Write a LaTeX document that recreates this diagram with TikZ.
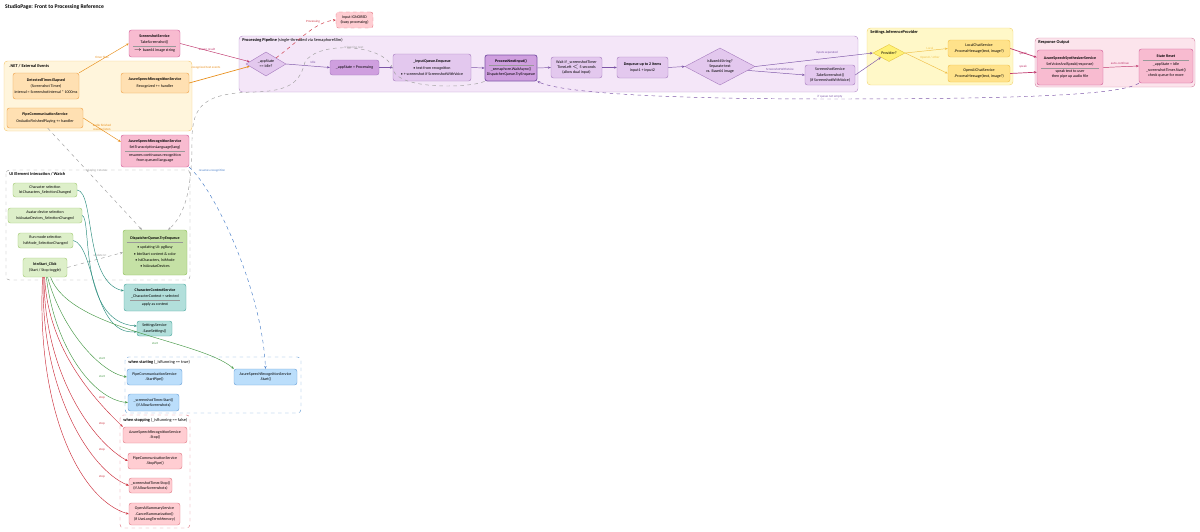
\documentclass[tikz,border=0pt]{standalone}
\usepackage{fontspec}
\setmainfont{Carlito}
\usepackage{tikz}
\usetikzlibrary{shapes.geometric, arrows.meta, positioning}
\definecolor{orfill}{HTML}{FFE0B2}
\definecolor{ordraw}{HTML}{EFA24A}
\definecolor{orgrp}{HTML}{FFF5DC}
\definecolor{orgrpdraw}{HTML}{F6CB7A}
\definecolor{pkfill}{HTML}{F8BBD0}
\definecolor{pkdraw}{HTML}{D0609A}
\definecolor{pufill}{HTML}{E3C8EE}
\definecolor{pudraw}{HTML}{A77CBF}
\definecolor{pudkfill}{HTML}{CF9FDF}
\definecolor{pugrp}{HTML}{F4E6F8}
\definecolor{pugrpdraw}{HTML}{B994CC}
\definecolor{grfill}{HTML}{DDEFC9}
\definecolor{grdraw}{HTML}{A2CB73}
\definecolor{dispfill}{HTML}{C5E1A5}
\definecolor{dispdraw}{HTML}{8DBF5A}
\definecolor{tlfill}{HTML}{B2DFDB}
\definecolor{tldraw}{HTML}{4BA89E}
\definecolor{blfill}{HTML}{BBDEFB}
\definecolor{bldraw}{HTML}{6A9FD6}
\definecolor{rdfill}{HTML}{FFCDD2}
\definecolor{rddraw}{HTML}{E07A86}
\definecolor{ylfill}{HTML}{FFE28A}
\definecolor{yldraw}{HTML}{F0C04A}
\definecolor{ylgrp}{HTML}{FFF8C8}
\definecolor{ylgrpdraw}{HTML}{F3D77A}
\definecolor{provfill}{HTML}{FFF176}
\definecolor{provdraw}{HTML}{E4C441}
\definecolor{respgrp}{HTML}{FCE4EC}
\definecolor{respgrpdraw}{HTML}{D68BA6}
\definecolor{orline}{HTML}{E8901E}
\definecolor{mgline}{HTML}{C0396E}
\definecolor{puline}{HTML}{7D56A8}
\definecolor{tlline}{HTML}{2F8F80}
\definecolor{gnline}{HTML}{4A9A4A}
\definecolor{rdline}{HTML}{CC3340}
\definecolor{blline}{HTML}{4A7FC8}
\definecolor{gyline}{HTML}{A0A0A0}
\newcommand{\nf}{\fontsize{3.4}{4.5}\selectfont}
\newcommand{\lf}{\fontsize{2.7}{3.2}\selectfont}
\newcommand{\gf}{\fontsize{3.7}{4.5}\selectfont\bfseries}
\newcommand{\hsep}[1]{{\color{black!40}\rule[0.7pt]{#1}{0.2pt}}}

\begin{document}
\begin{tikzpicture}[x=0.03cm, y=-0.03cm,
    box/.style={draw, rounded corners=2pt, align=center, inner sep=0.8pt, font=\nf, line width=0.35pt},
    orbox/.style={box, fill=orfill, draw=ordraw},
    pkbox/.style={box, fill=pkfill, draw=pkdraw},
    pubox/.style={box, fill=pufill, draw=pudraw},
    pudark/.style={box, fill=pudkfill, draw=pudraw},
    grbox/.style={box, fill=grfill, draw=grdraw},
    tlbox/.style={box, fill=tlfill, draw=tldraw},
    blbox/.style={box, fill=blfill, draw=bldraw},
    rdbox/.style={box, fill=rdfill, draw=rddraw},
    ylbox/.style={box, fill=ylfill, draw=yldraw},
    dia/.style={diamond, draw, aspect=2, inner sep=0pt, align=center, font=\nf, line width=0.35pt},
    grp/.style={rounded corners=3pt, line width=0.4pt},
    glabel/.style={anchor=north west, font=\gf, inner sep=1pt},
    lbl/.style={font=\lf, inner sep=0.5pt},
    arr/.style={-{Stealth[length=2.4pt, width=2pt]}, line width=0.4pt},
]
    \useasboundingbox (0,0) rectangle (1200,532);
    \node[anchor=north west, font=\fontsize{4.8}{5.5}\selectfont\bfseries, inner sep=0pt] (title) at (5,4) {StudioPage: Front to Processing Reference};

    % Groups
    \draw[grp, fill=orgrp, draw=orgrpdraw] (4,61) rectangle (192,131);
    \node[glabel] (netlbl) at (8,63) {.NET / External Events};
    \draw[grp, fill=pugrp, draw=pugrpdraw] (239,36) rectangle (858,92);
    \node[glabel] (proclbl) at (241,37) {Processing Pipeline {\mdseries (single-threaded via SemaphoreSlim)}};
    \draw[grp, fill=ylgrp, draw=ylgrpdraw] (867,28) rectangle (1013,85);
    \node[glabel] (setlbl) at (869,29.5) {Settings.InferenceProvider};
    \draw[grp, fill=respgrp, draw=respgrpdraw] (1035,38) rectangle (1195,87);
    \node[glabel] (resplbl) at (1037,39.5) {Response Output};
    \draw[grp, dashed, draw=gyline] (6,170) rectangle (190,280);
    \node[glabel] (uilbl) at (8,171.5) {UI Element Interaction / Watch};
    \draw[grp, dashed, draw=bldraw] (125,357) rectangle (301,413);
    \node[glabel] (startlbl) at (127,358.5) {when starting {\mdseries (\_isRunning == true)}};
    \draw[grp, dashed, draw=rddraw] (120,415) rectangle (190,528);
    \node[glabel] (stoplbl) at (122,416.5) {when stopping {\mdseries (\_isRunning == false)}};

    % External events
    \node[pkbox, minimum width=1.53cm, minimum height=0.81cm] (scr) at (154.5,43.5) {\textbf{ScreenshotService}\\[0.5pt] TakeScreenshot()\\[-1.5pt] \hsep{1.3cm}\\[-1pt] $\scriptstyle\rightarrow$ base64 image string};
    \node[orbox, minimum width=1.98cm, minimum height=0.78cm] (timer) at (46,86) {\textbf{DetectedTimer.Elapsed}\\[0.8pt] (Screenshot Timer)\\[0.8pt] interval = ScreenshotInterval * 1000ms};
    \node[orbox, minimum width=2.04cm, minimum height=0.6cm] (asrIn) at (155,83) {\textbf{AzureSpeechRecognitionService}\\[1pt] Recognized += handler};
    \node[orbox, minimum width=2.28cm, minimum height=0.6cm] (pipeIn) at (45,118) {\textbf{PipeCommunicationService}\\[1pt] OnAudioFinishedPlaying += handler};
    \node[pkbox, minimum width=2.04cm, minimum height=0.96cm] (asrLang) at (155,151) {\textbf{AzureSpeechRecognitionService}\\[0.5pt] SetTranscriptionLanguage(lang)\\[-1.5pt] \hsep{1.8cm}\\[-1pt] resumes continuous recognition\\ from queued language};

    % Processing pipeline
    \node[dia, fill=pufill, draw=pudraw, minimum width=1.2cm, minimum height=0.72cm] (idle) at (266,64) {\_appState\\== Idle?};
    \node[rdbox, dashed, minimum width=1.11cm, minimum height=0.48cm] (ignored) at (354.5,20) {Input IGNORED\\(busy processing)};
    \node[pudark, minimum width=1.47cm, minimum height=0.45cm] (proc) at (354.5,67.5) {\_appState = Processing};
    \node[pubox, minimum width=2.34cm, minimum height=0.81cm] (enq) at (432,67.5) {\textbf{\_inputQueue.Enqueue}\\[1pt] \textbullet\ text from recognition\\[0.5pt] \textbullet\ + screenshot if ScreenshotWithVoice};
    \node[pudark, line width=0.7pt, draw=puline, minimum width=1.56cm, minimum height=0.78cm] (pni) at (511,68) {\textbf{ProcessNextInput()}\\[-1.5pt] \hsep{1.35cm}\\[-1pt] \_semaphore.WaitAsync()\\ DispatcherQueue.TryEnqueue};
    \node[pubox, minimum width=1.53cm, minimum height=0.63cm] (wait) at (576.5,67.5) {Wait if \_screenshotTimer\\TimeLeft $<$ 5 seconds\\(allow dual input)};
    \node[pubox, minimum width=1.53cm, minimum height=0.63cm] (deq) at (642.5,67.5) {\textbf{Dequeue up to 2 items}\\[1pt] input1 + input2};
    \node[dia, fill=pufill, draw=pudraw, minimum width=2.1cm, minimum height=1.11cm] (sep) at (720,66.5) {isBase64String?\\Separate text\\vs. Base64 image};
    \node[pubox, minimum width=1.5cm, minimum height=0.6cm] (scr2) at (830,75) {ScreenshotService\\.TakeScreenshot()\\(if ScreenshotWithVoice)};

    % Inference provider
    \node[dia, fill=provfill, draw=provdraw, minimum width=0.96cm, minimum height=0.51cm] (prov) at (889,53) {Provider?};
    \node[ylbox, minimum width=1.86cm, minimum height=0.51cm] (local) at (979,48.5) {LocalChatService\\.ProcessMessage(text, image?)};
    \node[ylbox, minimum width=1.86cm, minimum height=0.51cm] (openai) at (979,73.5) {OpenAIChatService\\.ProcessMessage(text, image?)};

    % Response output
    \node[pkbox, minimum width=1.98cm, minimum height=1.05cm] (synth) at (1070,67.5) {\textbf{AzureSpeechSynthesizerService}\\[0.5pt] SetVoiceAndSpeak(response)\\[-1.5pt] \hsep{1.75cm}\\[-1pt] speak text to user\\ then pipe up audio file};
    \node[pkbox, minimum width=1.62cm, minimum height=1.02cm] (reset) at (1166,66) {\textbf{State Reset}\\[-1.5pt] \hsep{1.4cm}\\[-0.5pt] \_appState = Idle\\ \_screenshotTimer.Start()\\ check queue for more};

    % UI elements
    \node[grbox, minimum width=1.92cm, minimum height=0.42cm] (charSel) at (45,190) {Character selection\\lstCharacters\_SelectionChanged};
    \node[grbox, minimum width=2.22cm, minimum height=0.45cm] (avSel) at (45,215.5) {Avatar device selection\\lstAvatarDevices\_SelectionChanged};
    \node[grbox, minimum width=1.65cm, minimum height=0.45cm] (modeSel) at (45.5,240.5) {Run mode selection\\lstMode\_SelectionChanged};
    \node[grbox, minimum width=1.32cm, minimum height=0.57cm] (start) at (45,267.5) {\textbf{btnStart\_Click}\\[1pt] (Start / Stop toggle)};
    \node[box, fill=dispfill, draw=dispdraw, minimum width=1.92cm, minimum height=1.35cm] (disp) at (155,252.5) {\textbf{DispatcherQueue.TryEnqueue}\\[-1.5pt] \hsep{1.7cm}\\[0pt] \textbullet\ updating UI: pgBusy\\[1pt] \textbullet\ btnStart content \& color\\[1pt] \textbullet\ lstCharacters, lstMode\\[1pt] \textbullet\ lstAvatarDevices};
    \node[tlbox, minimum width=1.86cm, minimum height=0.81cm] (ccs) at (155,297.5) {\textbf{CharacterContextService}\\[1pt] \_CharacterContext = selected\\[-1.5pt] \hsep{1.5cm}\\[-1pt] apply as context};
    \node[tlbox, minimum width=1.05cm, minimum height=0.45cm] (sset) at (154.5,328.5) {SettingsService\\.SaveSettings()};

    % When starting
    \node[blbox, minimum width=1.65cm, minimum height=0.48cm] (pipeStart) at (154.5,377) {PipeCommunicationService\\.StartPipe()};
    \node[blbox, minimum width=1.89cm, minimum height=0.48cm] (asrStart) at (265.5,377) {AzureSpeechRecognitionService\\.Start()};
    \node[blbox, minimum width=1.53cm, minimum height=0.51cm] (tStart) at (153.5,402.5) {\_screenshotTimer.Start()\\(if AllowScreenshots)};

    % When stopping
    \node[rdbox, minimum width=1.92cm, minimum height=0.48cm] (asrStop) at (155,435) {AzureSpeechRecognitionService\\.Stop()};
    \node[rdbox, minimum width=1.62cm, minimum height=0.48cm] (pipeStop) at (155,461) {PipeCommunicationService\\.StopPipe()};
    \node[rdbox, minimum width=1.29cm, minimum height=0.45cm] (tStop) at (150.5,485.5) {\_screenshotTimer.Stop()\\(if AllowScreenshots)};
    \node[rdbox, minimum width=1.53cm, minimum height=0.66cm] (sumStop) at (154.5,514) {OpenAISummaryService\\.CancelSummarization()\\(if UseLongTermMemory)};

    % Event wiring
    \draw[arr, orline] (timer.north east) -- (scr.west);
    \node[lbl, text=orline] (l1) at (102,57) {timer fires};
    \draw[arr, mgline] (scr.east) -- (idle.172);
    \node[lbl, text=mgline] (l2) at (207,49) {screen result};
    \draw[arr, orline, line width=0.6pt] (asrIn.east) -- (idle.188);
    \node[lbl, text=orline] (l3) at (206,68) {recognized text events};
    \draw[arr, orline] (pipeIn.east) -- (asrLang.165);
    \node[lbl, text=orline, align=center] (l4) at (102,127.5) {audio finished\\resume listen};

    % Pipeline flow
    \draw[arr, rdline, dashed] (idle.north east) .. controls (300,40) and (315,22) .. (ignored.west);
    \node[lbl, text=rdline] (l5) at (313,22) {Processing};
    \draw[arr, puline] (idle.east) -- (proc.west);
    \node[lbl, text=puline] (l6) at (313,62) {Idle};
    \draw[arr, puline] (proc.east) -- (enq.west);
    \draw[arr, puline] (enq.east) -- (pni.west);
    \draw[arr, puline] (pni.east) -- (wait.west);
    \draw[arr, puline] (wait.east) -- (deq.west);
    \draw[arr, puline] (deq.east) -- (sep.west);
    \draw[arr, puline] (sep.east) -- (prov.west);
    \node[lbl, text=puline] (l7) at (827,53) {inputs separated};
    \draw[arr, puline] (sep.-8) -- (scr2.west);
    \node[lbl, text=puline] (l8) at (780,69) {ScreenshotWithVoice};
    \draw[arr, puline] (scr2.east) -- (prov.south west);
    \draw[arr, gyline, dashed] (pni.south west) .. controls (470,88) and (400,90) .. (393,70) .. controls (388,44) and (318,40) .. (305,62) .. controls (300,82) and (290,91) .. (255,92) .. controls (205,93) and (192,105) .. (192,140) .. controls (192,190) and (185,215) .. (disp.60);
    \node[lbl, text=gyline] (l9) at (354,48) {triggering next};

    % Provider and response
    \draw[arr, yldraw] (prov.east) -- (local.west);
    \node[lbl, text=yldraw] (l10) at (930,48) {Local};
    \draw[arr, yldraw] (prov.east) -- (openai.west);
    \node[lbl, text=yldraw] (l11) at (930,57.5) {OpenAI / other};
    \draw[arr, mgline, line width=0.6pt] (local.east) -- (synth.163);
    \node[lbl, text=mgline] (l12) at (1023,54) {speak};
    \draw[arr, mgline, line width=0.6pt] (openai.east) -- (synth.188);
    \node[lbl, text=mgline] (l13) at (1023,67) {speak};
    \draw[arr, mgline] (synth.east) -- (reset.west);
    \node[lbl, text=mgline] (l14) at (1120,63) {auto-continue};
    \draw[arr, puline, dashed] (reset.south west) .. controls (1120,96) and (1000,99) .. (830,99) .. controls (650,99) and (560,92) .. (pni.south east);
    \node[lbl, text=puline] (l15) at (830,97) {if queue not empty};

    % UI wiring
    \draw[arr, gyline, dashed] (pipeIn.-75) -- (disp.120);
    \node[lbl, text=gyline] (l16) at (97,171) {playing + status};
    \draw[arr, blline, dashed] (asrLang.south east) .. controls (215,190) and (262,290) .. (asrStart.north);
    \node[lbl, text=blline] (l17) at (212,171) {resumes recognition};
    \draw[arr, gyline, dashed] (start.east) -- (disp.west);
    \node[lbl, text=gyline] (l18) at (100,256) {update UI};
    \draw[arr, tlline] (charSel.east) .. controls (95,192) and (84,282) .. (ccs.168);
    \draw[arr, tlline] (avSel.east) .. controls (92,218) and (78,322) .. (sset.172);
    \draw[arr, tlline] (modeSel.east) .. controls (95,245) and (92,336) .. (sset.190);

    % Start / stop wiring
    \draw[arr, gnline] (start.-60) .. controls (70,330) and (200,340) .. (asrStart.north west);
    \node[lbl, text=gnline] (l19) at (155,344) {start};
    \draw[arr, gnline] (start.-75) .. controls (62,330) and (100,372) .. (pipeStart.west);
    \node[lbl, text=gnline] (l20) at (102,359) {start};
    \draw[arr, gnline] (start.-82) .. controls (55,350) and (95,400) .. (tStart.west);
    \node[lbl, text=gnline] (l21) at (102,377) {start};
    \draw[arr, rdline] (start.-92) .. controls (48,350) and (95,400) .. (asrStop.north west);
    \node[lbl, text=rdline] (l22) at (102,398) {stop};
    \draw[arr, rdline] (start.-96) .. controls (44,370) and (90,440) .. (pipeStop.west);
    \node[lbl, text=rdline] (l23) at (102,424) {stop};
    \draw[arr, rdline] (start.-100) .. controls (40,390) and (90,470) .. (tStop.west);
    \node[lbl, text=rdline] (l24) at (102,450) {stop};
    \draw[arr, rdline] (start.-104) .. controls (36,410) and (80,500) .. (sumStop.west);
    \node[lbl, text=rdline] (l25) at (102,477) {stop};
\end{tikzpicture}
\end{document}
